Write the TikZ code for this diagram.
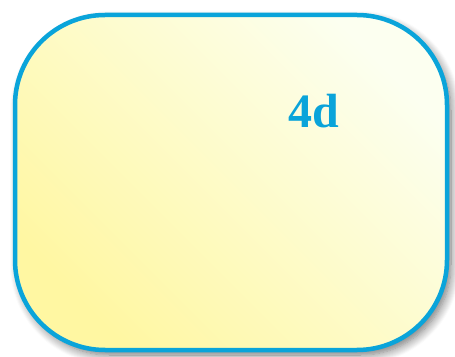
\documentclass[tikz,border=0pt]{standalone}
\usepackage{fontspec}
\newfontfamily\lblfont{Liberation Serif}
\usetikzlibrary{shadows.blur}
\definecolor{bordblue}{HTML}{0AA4DA}
\definecolor{yelA}{HTML}{FFF7A2}
\definecolor{yelB}{HTML}{FCFFF0}
\tikzset{
  card/.style={draw=bordblue, line width=4.5pt, rounded corners=90pt,
    bottom color=yelA, top color=yelB, shading angle=-45,
    blur shadow={shadow xshift=4pt, shadow yshift=-5pt, shadow blur steps=10, shadow blur radius=9pt, shadow opacity=55}},
  lbl/.style={text=bordblue, font=\lblfont\bfseries\fontsize{48}{52}\selectfont}
}
\begin{document}
\begin{tikzpicture}[x=1pt,y=1pt]
\useasboundingbox (0,0) rectangle (455,356);
\path[card] (15,6) rectangle (447,341);
\node[lbl] (t) at (314,245) {4d};
\end{tikzpicture}
\end{document}
